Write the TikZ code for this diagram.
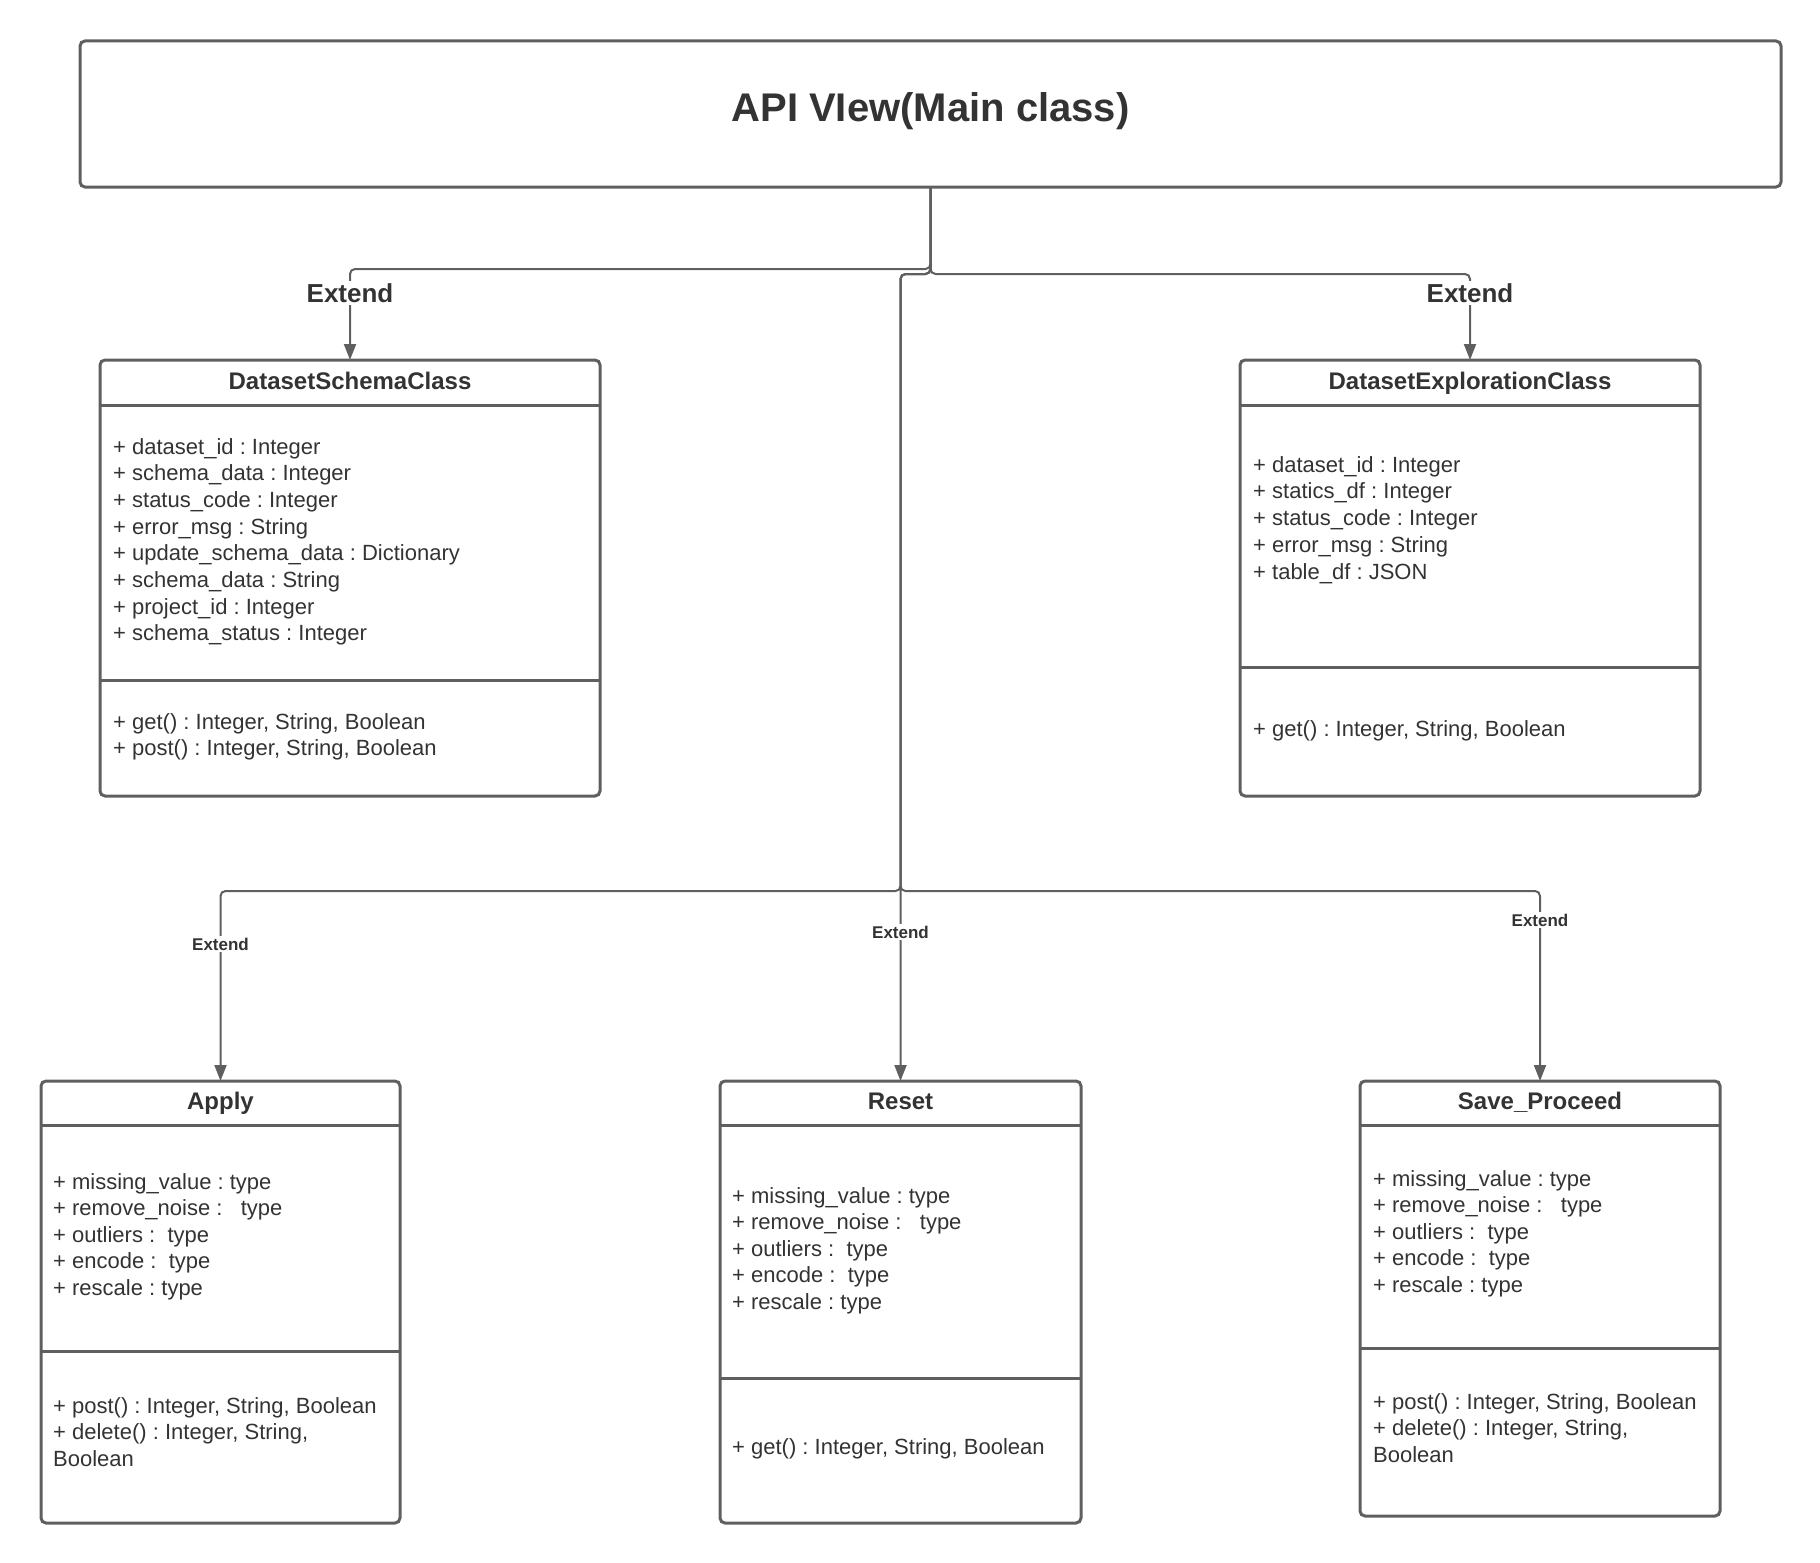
\documentclass[tikz,border=0pt]{standalone}
\usepackage{fontspec}
\setmainfont{Liberation Sans}
\usetikzlibrary{arrows.meta,positioning}
\frenchspacing

\definecolor{umlline}{HTML}{5F5F5F}
\definecolor{umltext}{HTML}{333333}

\tikzset{
  classbox/.style={draw=umlline, line width=3bp, rounded corners=5bp, anchor=north west, inner sep=0pt, outer sep=0pt},
  divider/.style={draw=umlline, line width=3bp},
  classname/.style={text=umltext, font=\bfseries\fontsize{24bp}{29bp}\selectfont, anchor=base, inner sep=0pt},
  member/.style={text=umltext, font=\fontsize{22bp}{27bp}\selectfont, anchor=base west, inner sep=0pt},
  conn/.style={draw=umlline, line width=2bp, rounded corners=5bp, -{Triangle[length=16bp,width=12bp]}},
  extlabel/.style={fill=white, text=umltext, font=\bfseries\fontsize{26bp}{30bp}\selectfont, inner sep=2bp},
  smalllabel/.style={extlabel, font=\bfseries\fontsize{17bp}{20bp}\selectfont}
}

\begin{document}
\begin{tikzpicture}[x=1bp,y=-1bp]
\useasboundingbox (0,0) rectangle (1820,1563);

  % main class
  \node[classbox, minimum width=1701bp, minimum height=146bp] (main) at (80,41) {};
  \node[text=umltext, font=\bfseries\fontsize{40bp}{48bp}\selectfont, anchor=base] (maintitle) at (930.5,122) {API VIew(Main class)};

  % sub classes
  \node[classbox, minimum width=500bp, minimum height=436bp] (schema) at (100,360) {};
  \node[classbox, minimum width=460bp, minimum height=436bp] (explore) at (1240,360) {};
  \node[classbox, minimum width=359bp, minimum height=442bp] (apply) at (41,1081) {};
  \node[classbox, minimum width=361bp, minimum height=442bp] (reset) at (720,1081) {};
  \node[classbox, minimum width=360bp, minimum height=435bp] (save) at (1360,1081) {};

  \foreach \cls/\yh/\ym in {schema/405/680, explore/405/667, apply/1125/1351, reset/1125/1378, save/1125/1348} {
    \draw[divider] (\cls.west |- 0,\yh) -- (\cls.east |- 0,\yh);
    \draw[divider] (\cls.west |- 0,\ym) -- (\cls.east |- 0,\ym);
  }

  \node[classname] (schematitle) at (schema.north |- 0,389) {DatasetSchemaClass};
  \node[classname] (exploretitle) at (explore.north |- 0,389) {DatasetExplorationClass};
  \node[classname] (applytitle) at (apply.north |- 0,1109) {Apply};
  \node[classname] (resettitle) at (reset.north |- 0,1109) {Reset};
  \node[classname] (savetitle) at (save.north |- 0,1109) {Save\_Proceed};

  % attributes
  \foreach \txt [count=\i] in {+ dataset\_id : Integer,+ schema\_data : Integer,+ status\_code : Integer,+ error\_msg : String,+ update\_schema\_data : Dictionary,+ schema\_data : String,+ project\_id : Integer,+ schema\_status : Integer}
    \node[member] (schema-a\i) at (113,{454+(\i-1)*26.7}) {\txt};
  \foreach \txt [count=\i] in {+ dataset\_id : Integer,+ statics\_df : Integer,+ status\_code : Integer,+ error\_msg : String,+ table\_df : JSON}
    \node[member] (explore-a\i) at (1253,{472+(\i-1)*26.8}) {\txt};
  \foreach \cls/\xs/\ys in {apply/53/1189, reset/732/1203, save/1373/1186}
    \foreach \txt [count=\i] in {+ missing\_value : type,+ remove\_noise :~~~type,+ outliers :~~type,+ encode :~~type,+ rescale : type}
      \node[member] (\cls-a\i) at (\xs,{\ys+(\i-1)*26.5}) {\txt};

  % methods
  \foreach \txt [count=\i] in {{+ get() : Integer, String, Boolean},{+ post() : Integer, String, Boolean}}
    \node[member] (schema-m\i) at (113,{729+(\i-1)*26.7}) {\txt};
  \node[member] (explore-m1) at (1253,736) {+ get() : Integer, String, Boolean};
  \node[member] (reset-m1) at (732,1454) {+ get() : Integer, String, Boolean};
  \foreach \cls/\xs/\ys in {apply/53/1413, save/1373/1409}
    \foreach \txt [count=\i] in {{+ post() : Integer, String, Boolean},{+ delete() : Integer, String,},Boolean}
      \node[member] (\cls-m\i) at (\xs,{\ys+(\i-1)*26.5}) {\txt};

  % connectors
  \coordinate (hub) at (reset.north |- 0,274);
  \coordinate (bus) at (reset.north |- 0,891);
  \draw[conn] (main.south) -- ++(0,82) -| (schema.north);
  \draw[conn] (main.south) -- ++(0,87) -| (explore.north);
  \draw[conn] (main.south) |- (hub) -- (reset.north);
  \draw[conn] (main.south) |- (hub) -- (bus) -| (apply.north);
  \draw[conn] (main.south) |- (hub) -- (bus) -| (save.north);

  \node[extlabel] (ext-schema) at (schema.north |- 0,293) {Extend};
  \node[extlabel] (ext-explore) at (explore.north |- 0,293) {Extend};
  \node[smalllabel] (ext-apply) at (apply.north |- 0,944) {Extend};
  \node[smalllabel] (ext-reset) at (reset.north |- 0,932) {Extend};
  \node[smalllabel] (ext-save) at (save.north |- 0,920) {Extend};

\end{tikzpicture}
\end{document}
